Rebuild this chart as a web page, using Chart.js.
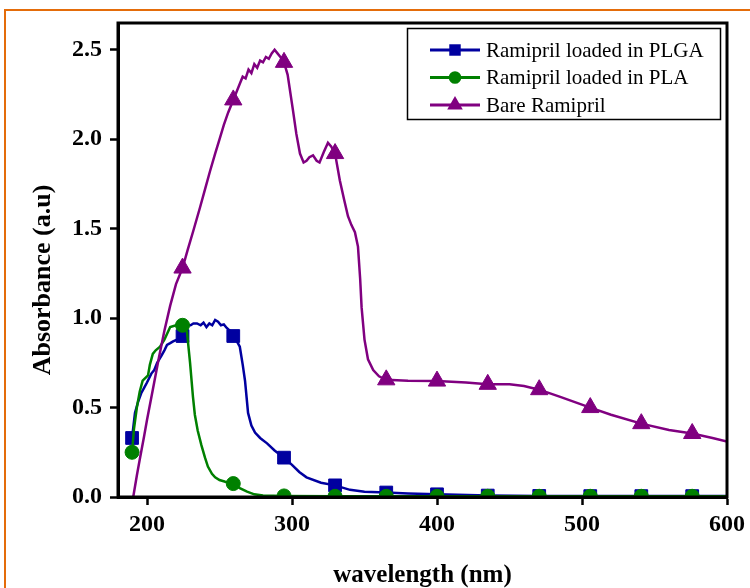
<!DOCTYPE html>
<html>
<head>
<meta charset="utf-8">
<script src="https://cdn.jsdelivr.net/npm/chart.js@4.4.1/dist/chart.umd.min.js"></script>
<style>
  html, body { margin: 0; padding: 0; background: #fff; overflow: hidden; }
  #wrap { position: relative; width: 750px; height: 588px; }
  #frame { position: absolute; left: 4px; top: 9px; width: 780px; height: 620px;
           border-top: 2px solid #E46C0A; border-left: 2px solid #E46C0A; }
  #c { position: absolute; left: 0; top: 0; }
</style>
</head>
<body>
<div id="wrap">
  <div id="frame"></div>
  <canvas id="c" width="750" height="588"></canvas>
</div>
<script>
// Axis ticks
const xTicks = [200, 300, 400, 500, 600];
const yTicks = [0, 0.5, 1.0, 1.5, 2.0, 2.5];

// Wavelengths (nm) where each series carries a symbol
const markerNm = [189.7, 224.5, 259.5, 294.5, 329.7, 365, 400, 435, 470.5, 505.7, 540.9, 576];

// Ramipril loaded in PLGA
const plgaNm  = [189.7, 191.7, 193.8, 196, 198, 200, 203, 205, 207, 210, 212, 213.8, 216, 218, 220.7,
                 224.5, 226, 227.6, 230, 232, 234.5, 237, 239, 241, 243, 245, 247, 249, 251, 253, 255, 257,
                 259.5, 262, 264, 266, 267.6, 269.7, 272, 274.5, 278, 282.8, 288, 294.5, 300, 305, 310, 320,
                 329.7, 340, 350, 365, 380, 400, 435, 470.5, 505.7, 540.9, 576, 600];
const plgaAbs = [0.33, 0.47, 0.53, 0.58, 0.61, 0.64, 0.69, 0.71, 0.75, 0.79, 0.82, 0.85, 0.86, 0.87, 0.88,
                 0.90, 0.93, 0.96, 0.96, 0.97, 0.97, 0.96, 0.975, 0.95, 0.97, 0.96, 0.99, 0.98, 0.96, 0.965, 0.945, 0.93,
                 0.90, 0.87, 0.84, 0.74, 0.65, 0.47, 0.40, 0.36, 0.33, 0.30, 0.26, 0.22, 0.18, 0.14, 0.11, 0.08,
                 0.065, 0.04, 0.03, 0.025, 0.02, 0.015, 0.008, 0.006, 0.005, 0.005, 0.005, 0.005];

// Ramipril loaded in PLA
const plaNm  = [189.7, 191, 193, 195, 197, 200.7, 202, 204, 206, 209, 212, 216, 220, 224.5, 226, 227.6,
                229.7, 231.7, 233, 235, 237.5, 240, 242, 244.8, 247, 250, 254, 259.5, 264, 269, 274, 280,
                294.5, 329.7, 365, 400, 435, 470.5, 505.7, 540.9, 576, 600];
const plaAbs = [0.25, 0.38, 0.50, 0.59, 0.65, 0.68, 0.74, 0.80, 0.82, 0.84, 0.88, 0.95, 0.96, 0.96, 0.95, 0.92,
                0.75, 0.56, 0.46, 0.37, 0.29, 0.22, 0.17, 0.13, 0.11, 0.095, 0.085, 0.075, 0.05, 0.03, 0.015, 0.008,
                0.006, 0.004, 0.004, 0.004, 0.004, 0.004, 0.004, 0.004, 0.004, 0.004];

// Bare Ramipril
const bareNm  = [190.5, 193, 195, 198, 200, 204, 208, 212, 216, 220, 224.5, 228, 232, 236.6, 240, 243.4, 247,
                 250, 253, 256, 259.5, 262, 264, 266, 268, 270, 272, 274, 276, 278, 280, 282, 284, 286, 288,
                 290, 292, 294.5, 297, 300.7, 303, 305.5, 308, 310, 312, 314.5, 317, 319, 322, 324.8, 327,
                 329.7, 333, 336, 338.6, 341, 343.4, 345.5, 347, 348, 350, 352.4, 356, 360, 365, 380, 400,
                 420, 435, 450, 460, 470.5, 485, 505.7, 520, 540.9, 560, 576, 590, 600];
const bareAbs = [0.00, 0.12, 0.21, 0.34, 0.43, 0.60, 0.77, 0.93, 1.07, 1.19, 1.28, 1.38, 1.49, 1.62, 1.72, 1.82, 1.92,
                 2.00, 2.08, 2.15, 2.22, 2.27, 2.31, 2.35, 2.34, 2.39, 2.37, 2.42, 2.40, 2.44, 2.43, 2.46, 2.45, 2.48, 2.50,
                 2.48, 2.46, 2.43, 2.36, 2.16, 2.03, 1.92, 1.87, 1.88, 1.90, 1.91, 1.88, 1.87, 1.93, 1.98, 1.96,
                 1.92, 1.77, 1.66, 1.57, 1.52, 1.48, 1.40, 1.22, 1.06, 0.88, 0.77, 0.71, 0.675, 0.655, 0.65, 0.648,
                 0.64, 0.63, 0.63, 0.62, 0.60, 0.56, 0.50, 0.46, 0.41, 0.375, 0.355, 0.33, 0.31];

const FONT = "'Liberation Serif', 'Times New Roman', serif";
const toXY = (xs, ys) => xs.map((x, i) => ({ x, y: ys[i] }));
const isMarker = (x) => markerNm.includes(x);

function series(label, xs, ys, color, style, radius, order) {
  return {
    label,
    data: toXY(xs, ys),
    borderColor: color,
    backgroundColor: color,
    pointBackgroundColor: color,
    pointBorderColor: color,
    borderWidth: 2.5,
    pointStyle: style,
    pointBorderWidth: 1,
    pointRadius: (ctx) => (ctx.raw && isMarker(ctx.raw.x) ? radius : 0),
    pointHoverRadius: (ctx) => (ctx.raw && isMarker(ctx.raw.x) ? radius : 0),
    tension: 0,
    order,
    legendRadius: radius
  };
}

const datasets = [
  series('Ramipril loaded in PLGA', plgaNm, plgaAbs, '#0000A0', 'rect', 9, 2),
  series('Ramipril loaded in PLA', plaNm, plaAbs, '#008000', 'circle', 7, 1),
  series('Bare Ramipril', bareNm, bareAbs, '#800080', 'triangle', 10, 0)
];

// Closed black box around the plotting area
const frameBox = {
  id: 'frameBox',
  afterDatasetsDraw(chart) {
    const { ctx, chartArea: a } = chart;
    ctx.save();
    ctx.strokeStyle = '#000';
    ctx.lineWidth = 3;
    ctx.strokeRect(a.left, a.top, a.right - a.left, a.bottom - a.top);
    ctx.restore();
  }
};

// Vertical axis title
const yTitle = {
  id: 'yTitle',
  afterDraw(chart) {
    const { ctx, chartArea: a } = chart;
    ctx.save();
    ctx.translate(43, (a.top + a.bottom) / 2 + 20);
    ctx.rotate(-Math.PI / 2);
    ctx.font = 'bold 26px ' + FONT;
    ctx.fillStyle = '#000';
    ctx.textAlign = 'center';
    ctx.textBaseline = 'middle';
    ctx.fillText('Absorbance (a.u)', 0, 0);
    ctx.restore();
  }
};

// Boxed legend in the upper right of the plot, line sample with symbol
const boxLegend = {
  id: 'boxLegend',
  afterDraw(chart) {
    const { ctx, chartArea: a } = chart;
    const w = 313, h = 91;
    const bx = a.right - 7 - w, by = a.top + 5;
    ctx.save();
    ctx.fillStyle = '#fff';
    ctx.fillRect(bx, by, w, h);
    ctx.strokeStyle = '#000';
    ctx.lineWidth = 1.5;
    ctx.strokeRect(bx + 0.5, by + 0.5, w, h);
    chart.data.datasets.forEach((ds, i) => {
      const y = by + 22 + i * 27.5;
      const x0 = bx + 23, x1 = bx + 73;
      ctx.strokeStyle = ds.borderColor;
      ctx.lineWidth = 3;
      ctx.beginPath();
      ctx.moveTo(x0, y);
      ctx.lineTo(x1, y);
      ctx.stroke();
      ctx.fillStyle = ds.borderColor;
      Chart.helpers.drawPoint(ctx, {
        pointStyle: ds.pointStyle,
        radius: ds.legendRadius * 0.9,
        rotation: 0,
        borderWidth: 0
      }, (x0 + x1) / 2, y);
      ctx.fillStyle = '#000';
      ctx.font = '21px ' + FONT;
      ctx.textAlign = 'left';
      ctx.textBaseline = 'middle';
      ctx.fillText(ds.label, x1 + 6, y + 1);
    });
    ctx.restore();
  }
};

new Chart(document.getElementById('c'), {
  type: 'line',
  data: { datasets },
  plugins: [frameBox, yTitle, boxLegend],
  options: {
    responsive: false,
    animation: false,
    layout: { padding: { left: 0, top: 23, right: 21, bottom: 0 } },
    plugins: {
      legend: { display: false },
      tooltip: { enabled: false }
    },
    scales: {
      x: {
        type: 'linear',
        min: 180,
        max: 600,
        afterBuildTicks: (s) => { s.ticks = xTicks.map((v) => ({ value: v })); },
        afterFit: (s) => { s.height = 91; },
        border: { display: true, color: '#000', width: 3 },
        grid: { display: true, drawOnChartArea: false, drawTicks: true, tickLength: 8, tickWidth: 2.5, tickColor: '#000' },
        ticks: { color: '#000', font: { family: FONT, size: 24, weight: 'bold' }, padding: 5, maxRotation: 0 },
        title: { display: true, text: 'wavelength (nm)', color: '#000',
                 font: { family: FONT, size: 25, weight: 'bold', lineHeight: 1 }, padding: { top: 0, bottom: 0 } }
      },
      y: {
        type: 'linear',
        min: 0,
        max: 2.65,
        afterBuildTicks: (s) => { s.ticks = yTicks.map((v) => ({ value: v })); },
        afterFit: (s) => { s.width = 118; },
        border: { display: true, color: '#000', width: 3 },
        grid: { display: true, drawOnChartArea: false, drawTicks: true, tickLength: 8, tickWidth: 2.5, tickColor: '#000' },
        ticks: { color: '#000', font: { family: FONT, size: 24, weight: 'bold' }, padding: 8,
                 callback: (v) => Number(v).toFixed(1) }
      }
    }
  }
});
</script>
</body>
</html>
